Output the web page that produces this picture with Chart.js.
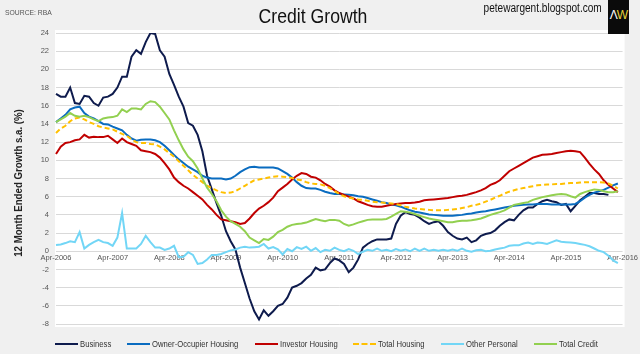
<!DOCTYPE html>
<html lang="en">
<head>
<meta charset="utf-8">
<title>Credit Growth</title>
<script src="https://cdn.jsdelivr.net/npm/chart.js@4.4.1/dist/chart.umd.min.js"></script>
<style>
    html, body { margin: 0; padding: 0; background: #f0f0f0; }
    #wrap { position: relative; width: 640px; height: 354px; overflow: hidden;
            font-family: 'Liberation Sans', Arial, sans-serif; color: #222; }
    #chart { position: absolute; left: 0; top: 0; }
    .source { position: absolute; left: 5px; top: 8px; font-size: 8px; color: #555;
              transform: scaleX(0.85); transform-origin: left center; }
    .title { position: absolute; left: 0; width: 626px; top: 4px; text-align: center; font-size: 21px; color: #111;
             transform: scaleX(0.84); transform-origin: 313px center; }
    .site { position: absolute; right: 38px; top: 1px; font-size: 12px; color: #111;
            transform: scaleX(0.84); transform-origin: right center; }
    .logo { position: absolute; left: 608px; top: 0; width: 21px; height: 34px; background: #0b0b0b;
            font-size: 12px; line-height: 30px; text-align: center; letter-spacing: -1px; }
    .logo .a { color: #fff; }
    .logo .w { color: #e8d33a; }
    .ytitle { position: absolute; left: -82px; top: 176px; width: 200px; height: 14px; line-height: 14px;
              text-align: center; font-size: 11.5px; font-weight: bold; color: #222;
              transform: rotate(-90deg) scaleX(0.84); }
    #legend { position: absolute; left: 55px; top: 338px; display: flex; font-size: 9.5px; color: #333; white-space: nowrap; }
    #legend .item { display: flex; align-items: center; margin-right: 16px; }
    #legend .mark { width: 23px; height: 0; border-top: 2px solid; margin-right: 2px; }
</style>
</head>
<body>
<div id="wrap">
    <canvas id="chart" width="640" height="354"></canvas>
    <div class="source">SOURCE: RBA</div>
    <div class="title">Credit Growth</div>
    <div class="site">petewargent.blogspot.com</div>
    <div class="logo"><span class="a">&Lambda;</span><span class="w">W</span></div>
    <div class="ytitle">12 Month Ended Growth s.a. (%)</div>
    <div id="legend"></div>
</div>
<script>
"use strict";

// tick labels on the x axis, one each April
const tickLabels = ['Apr-2006', 'Apr-2007', 'Apr-2008', 'Apr-2009', 'Apr-2010', 'Apr-2011',
    'Apr-2012', 'Apr-2013', 'Apr-2014', 'Apr-2015', 'Apr-2016'];
const monthNames = ['Apr', 'May', 'Jun', 'Jul', 'Aug', 'Sep', 'Oct', 'Nov', 'Dec', 'Jan', 'Feb', 'Mar'];

// 12 month ended growth, monthly from Apr-2006 to Mar-2016
const business = [
    17.3, 17.0, 17.0, 18.0, 16.3, 16.2, 17.1, 17.0, 16.3, 16.0, 16.9, 17.0,
    17.3, 18.0, 19.2, 19.2, 21.4, 22.1, 21.7, 23.0, 24.0, 23.9, 22.1, 21.4,
    19.5, 18.3, 17.0, 15.9, 14.1, 13.8, 12.8, 11.0, 8.3, 6.8, 5.3, 3.9,
    2.2, 1.1, 0.2, -1.8, -3.5, -5.2, -6.6, -7.5, -6.5, -7.1, -6.6, -6.0,
    -5.8, -5.1, -4.0, -3.8, -3.5, -3.0, -2.6, -1.8, -2.1, -2.0, -1.3, -0.8,
    -1.0, -1.4, -2.3, -1.8, -0.9, 0.4, 0.8, 1.1, 1.3, 1.3, 1.3, 1.4,
    3.0, 3.9, 4.3, 4.1, 4.0, 3.7, 3.3, 3.0, 3.2, 3.3, 2.8, 2.1,
    1.7, 1.4, 1.3, 1.5, 1.0, 1.2, 1.7, 1.9, 2.0, 2.3, 2.8, 3.2,
    3.5, 3.4, 4.0, 4.5, 4.8, 4.8, 5.2, 5.5, 5.65, 5.5, 5.4, 5.1,
    5.2, 4.4, 5.0, 5.6, 6.0, 6.4, 6.4, 6.3, 6.3, 6.2, null, null
];
const ownerOccupier = [
    14.2, 14.6, 15.0, 15.6, 15.8, 15.9, 15.2, 14.8, 14.6, 14.3, 14.0, 13.95,
    13.7, 13.5, 13.3, 12.8, 12.4, 12.15, 12.25, 12.3, 12.3, 12.2, 12.0, 11.6,
    11.1, 10.6, 10.1, 9.7, 9.3, 9.0, 8.7, 8.3, 8.1, 8.0, 8.0, 8.0,
    7.9, 8.0, 8.3, 8.7, 9.0, 9.25, 9.3, 9.2, 9.2, 9.2, 9.2, 9.1,
    8.8, 8.5, 8.1, 7.6, 7.2, 6.95, 6.9, 6.9, 6.75, 6.55, 6.4, 6.3,
    6.3, 6.25, 6.2, 6.15, 6.05, 6.0, 5.85, 5.7, 5.55, 5.4, 5.3, 5.15,
    5.05, 4.9, 4.7, 4.5, 4.35, 4.25, 4.15, 4.05, 4.0, 3.95, 3.9, 3.9,
    3.9, 3.95, 4.0, 4.1, 4.15, 4.25, 4.35, 4.4, 4.5, 4.6, 4.7, 4.8,
    4.9, 5.0, 5.05, 5.1, 5.15, 5.15, 5.2, 5.2, 5.2, 5.15, 5.15, 5.15,
    5.15, 5.15, 5.2, 5.5, 5.9, 6.2, 6.45, 6.6, 6.75, 7.0, 7.25, 7.45
];
const investor = [
    10.7, 11.5, 11.9, 12.0, 12.2, 12.3, 12.8, 12.5, 12.6, 12.55, 12.55, 12.7,
    12.3, 11.9, 12.4, 12.0, 11.8, 11.6, 11.1, 11.0, 10.9, 10.7, 10.3, 9.7,
    9.0, 8.1, 7.6, 7.2, 6.9, 6.5, 6.1, 5.7, 5.1, 4.6, 4.0, 3.5,
    3.4, 3.3, 3.2, 3.0, 3.1, 3.6, 4.2, 4.7, 5.0, 5.4, 5.9, 6.6,
    7.0, 7.4, 7.9, 8.3, 8.6, 8.5, 8.2, 8.1, 7.8, 7.4, 7.1, 6.7,
    6.4, 6.2, 6.0, 5.8, 5.5, 5.3, 5.1, 4.95, 4.9, 4.9, 5.0, 5.1,
    5.2, 5.25, 5.3, 5.3, 5.35, 5.45, 5.6, 5.65, 5.7, 5.75, 5.8, 5.85,
    5.95, 6.05, 6.1, 6.2, 6.35, 6.5, 6.7, 6.95, 7.3, 7.5, 7.8, 8.3,
    8.8, 9.1, 9.4, 9.7, 10.0, 10.3, 10.45, 10.6, 10.65, 10.7, 10.8, 10.9,
    11.0, 11.05, 11.0, 10.9, 10.3, 9.6, 9.0, 8.5, 7.8, 7.3, 6.9, 6.5
];
const totalHousing = [
    13.0, 13.5, 13.8, 14.3, 14.6, 14.7, 14.5, 14.2, 14.0, 13.75, 13.6, 13.5,
    13.4, 13.15, 12.9, 12.7, 12.3, 12.0, 11.9, 11.9, 11.8, 11.75, 11.5, 11.2,
    10.8, 10.4, 9.9, 9.4, 8.9, 8.4, 8.0, 7.6, 7.2, 6.95, 6.7, 6.5,
    6.4, 6.45, 6.6, 6.9, 7.2, 7.5, 7.8, 7.9, 8.0, 8.1, 8.2, 8.25,
    8.2, 8.15, 8.05, 7.9, 7.8, 7.6, 7.45, 7.4, 7.35, 7.2, 6.95, 6.6,
    6.3, 6.05, 5.9, 5.8, 5.7, 5.65, 5.55, 5.45, 5.4, 5.35, 5.3, 5.25,
    5.18, 5.05, 4.9, 4.8, 4.7, 4.65, 4.6, 4.55, 4.5, 4.5, 4.5, 4.55,
    4.6, 4.65, 4.75, 4.85, 5.0, 5.1, 5.25, 5.45, 5.65, 5.9, 6.1, 6.35,
    6.55, 6.7, 6.85, 6.95, 7.05, 7.15, 7.25, 7.3, 7.35, 7.35, 7.4, 7.4,
    7.45, 7.5, 7.5, 7.55, 7.6, 7.6, 7.6, 7.6, 7.55, 7.45, 7.2, 6.9
];
const otherPersonal = [
    0.7, 0.75, 0.9, 1.1, 1.0, 2.1, 0.3, 0.7, 1.0, 1.25, 1.0, 0.9,
    0.6, 1.5, 4.2, 0.3, 0.3, 0.3, 0.8, 1.7, 1.0, 0.4, 0.4, 0.15,
    0.3, 0.6, -0.65, -0.6, -0.1, -0.4, -1.4, -1.3, -0.9, -0.4, -0.4, -0.3,
    -0.1, 0.1, 0.2, 0.4, 0.5, 0.4, 0.45, 0.5, 0.8, 0.3, 0.45, 0.2,
    -0.35, 0.25, 0.0, 0.45, 0.25, 0.5, 0.05, 0.35, -0.1, 0.15, 0.05, 0.4,
    0.15, 0.0, 0.25, 0.05, -0.3, -0.05, 0.15, 0.05, 0.3, 0.05, 0.15, 0.0,
    0.25, 0.05, 0.2, 0.0, 0.3, 0.05, 0.3, 0.05, 0.15, 0.05, 0.15, 0.05,
    0.2, 0.05, 0.3, 0.05, -0.05, 0.1, 0.15, 0.0, 0.05, 0.2, 0.3, 0.4,
    0.6, 0.65, 0.65, 0.85, 0.95, 0.8, 0.95, 0.9, 0.8, 1.0, 1.2, 1.05,
    1.0, 0.95, 0.9, 0.8, 0.7, 0.55, 0.3, 0.05, -0.1, -0.5, -1.0, -1.3
];
const totalCredit = [
    14.2, 14.5, 14.8, 15.2, 14.9, 14.8, 14.9, 14.75, 14.5, 14.3, 14.6, 14.7,
    14.75, 14.9, 15.6, 15.3, 15.7, 15.7, 15.6, 16.2, 16.5, 16.4, 15.9, 15.2,
    14.5, 13.3, 12.2, 11.2, 10.4, 9.9, 9.1, 8.0, 7.0, 6.3, 5.5, 4.5,
    3.8, 3.3, 3.0, 2.7, 2.2, 1.5, 1.2, 0.9, 1.35, 1.25, 1.6, 2.1,
    2.35, 2.7, 2.9, 3.0, 3.05, 3.15, 3.35, 3.55, 3.4, 3.3, 3.45, 3.45,
    3.35, 3.0, 2.8, 2.95, 3.15, 3.3, 3.45, 3.5, 3.5, 3.5, 3.55, 3.8,
    4.1, 4.4, 4.35, 4.25, 4.1, 3.9, 3.75, 3.6, 3.5, 3.4, 3.3, 3.2,
    3.2, 3.3, 3.35, 3.35, 3.4, 3.5, 3.6, 3.8, 4.0, 4.15, 4.3, 4.5,
    4.8, 5.1, 5.2, 5.3, 5.4, 5.65, 5.8, 5.95, 6.05, 6.15, 6.25, 6.3,
    6.25, 6.05, 5.9, 6.3, 6.5, 6.65, 6.8, 6.75, 6.6, 6.5, 6.5, 6.6
];

// one category per month, Apr-2006 .. Apr-2016
const months = [];
for (let i = 0; i <= 120; i++) {
    months.push(monthNames[i % 12] + '-' + (2006 + Math.floor((i + 3) / 12)));
}

const series = [
    { label: 'Business', data: business, color: '#0e1b4d', dash: [] },
    { label: 'Owner-Occupier Housing', data: ownerOccupier, color: '#0a6cc0', dash: [] },
    { label: 'Investor Housing', data: investor, color: '#c00000', dash: [] },
    { label: 'Total Housing', data: totalHousing, color: '#ffc000', dash: [5, 3] },
    { label: 'Other Personal', data: otherPersonal, color: '#72d6f6', dash: [] },
    { label: 'Total Credit', data: totalCredit, color: '#92d050', dash: [] }
];

const tickFont = { family: "'Liberation Sans', Arial, sans-serif", size: 7.5 };

// white plot background
const plotBg = {
    id: 'plotBg',
    beforeDraw(chart) {
        const { ctx, chartArea: a } = chart;
        ctx.save();
        ctx.fillStyle = '#ffffff';
        ctx.fillRect(a.left - 1, a.top - 3, a.right - a.left + 3, a.bottom - a.top + 6);
        ctx.restore();
    }
};

new Chart(document.getElementById('chart'), {
    type: 'line',
    data: {
        labels: months,
        datasets: series.map(s => ({
            label: s.label,
            data: s.data,
            borderColor: s.color,
            backgroundColor: s.color,
            borderDash: s.dash,
            borderWidth: 2,
            pointRadius: 0,
            tension: 0
        })).reverse()
    },
    options: {
        responsive: false,
        animation: false,
        layout: { padding: { left: 0, right: 17, top: 33, bottom: 30 } },
        plugins: { legend: { display: false }, tooltip: { enabled: false } },
        scales: {
            x: {
                position: { y: 0 },
                grid: { display: false, drawTicks: false, tickLength: 0 },
                border: { display: false },
                ticks: {
                    autoSkip: false,
                    maxRotation: 0,
                    padding: 2,
                    color: '#555',
                    font: tickFont,
                    callback: (v, i) => (i % 12 === 0 ? tickLabels[i / 12] : '')
                }
            },
            y: {
                min: -8,
                max: 24,
                afterFit: s => { s.width = 56; },
                grid: { color: '#d9d9d9', drawTicks: false },
                border: { display: false },
                ticks: { stepSize: 2, padding: 7, color: '#555', font: tickFont }
            }
        }
    },
    plugins: [plotBg]
});

// squeeze a span sideways so plain Arial looks like the narrow chart font
function condense(el, k) {
    const w = el.getBoundingClientRect().width;
    el.style.display = 'inline-block';
    el.style.transformOrigin = 'left center';
    el.style.transform = 'scaleX(' + k + ')';
    el.style.marginRight = (-(1 - k) * w) + 'px';
}

// legend under the plot
const legendEl = document.getElementById('legend');
series.forEach(s => {
    const item = document.createElement('div');
    item.className = 'item';
    const mark = document.createElement('span');
    mark.className = 'mark';
    mark.style.borderTopColor = s.color;
    if (s.dash.length) mark.style.borderTopStyle = 'dashed';
    const text = document.createElement('span');
    text.textContent = s.label;
    item.appendChild(mark);
    item.appendChild(text);
    legendEl.appendChild(item);
    condense(text, 0.81);
});
</script>
</body>
</html>
